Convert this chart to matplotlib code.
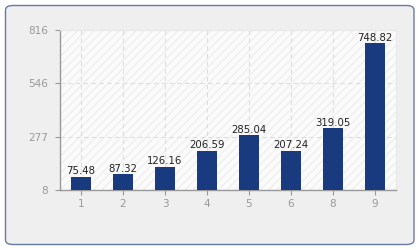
import matplotlib
matplotlib.use('Agg')
import matplotlib.pyplot as plt
from matplotlib.patches import FancyBboxPatch

categories = ['1', '2', '3', '4', '5', '6', '8', '9']
values = [75.48, 87.32, 126.16, 206.59, 285.04, 207.24, 319.05, 748.82]
y_ticks = [8, 277, 546, 816]

W, H = 420, 250
fig = plt.figure(figsize=(W / 100, H / 100), dpi=100)
fig.patch.set_facecolor('white')

# outer rounded panel
panel = FancyBboxPatch((5.5 / W, 5.5 / H), 408.5 / W, 239 / H,
                       boxstyle='round,pad=0,rounding_size=0.018',
                       transform=fig.transFigure, facecolor='#efefef',
                       edgecolor='#6a78a8', linewidth=1.0, zorder=-10)
fig.patches.append(panel)

ax = fig.add_axes([60 / W, (H - 190) / H, 336 / W, 160 / H])
ax.set_zorder(5)
ax.set_facecolor('#fbfbfb')
x = range(len(categories))

# faint diagonal hatch in plot area
ax.fill_between([-0.5, 7.5], 8, 816, facecolor='none', edgecolor='#efefef',
                hatch='////', linewidth=0, zorder=0)

bars = ax.bar(x, values, width=0.48, color='#1a3a80', zorder=3)
for xi, v in zip(x, values):
    ax.text(xi, v + 3, f'{v:.2f}', ha='center', va='bottom',
            fontsize=7.3, color='#222222', zorder=4)

ax.set_xlim(-0.5, 7.5)
ax.set_ylim(8, 816)
ax.set_xticks(list(x))
ax.set_xticklabels(categories)
ax.set_yticks(y_ticks)
ax.grid(True, color='#dddddd', linestyle=(0, (4, 3)), linewidth=0.8, zorder=1)
ax.set_axisbelow(True)

for s in ['top', 'right']:
    ax.spines[s].set_color('#e8e8e8')
    ax.spines[s].set_linewidth(0.8)
for s in ['left', 'bottom']:
    ax.spines[s].set_color('#999999')
    ax.spines[s].set_linewidth(1.0)
ax.tick_params(colors='#999999', labelsize=7.5, length=3.6, width=0.8,
               labelcolor='#999999')
ax.tick_params(axis='y', pad=5)
ax.tick_params(axis='x', pad=3)

fig.savefig('out.png', dpi=100)
